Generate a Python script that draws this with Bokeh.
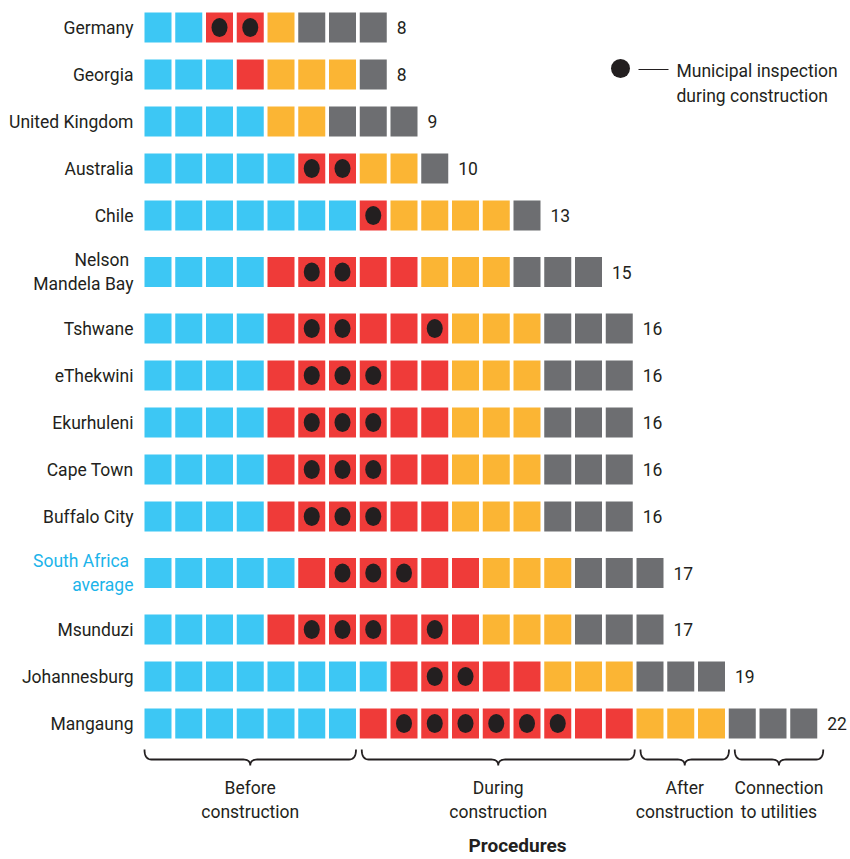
import numpy as np
from bokeh.plotting import figure
from bokeh.models import Range1d, ColumnDataSource
from bokeh.core.properties import value
from bokeh.embed import file_html
from bokeh.resources import INLINE

# ---------------- data ----------------
places = ["Germany", "Georgia", "United Kingdom", "Australia", "Chile",
          "Nelson \nMandela Bay", "Tshwane", "eThekwini", "Ekurhuleni",
          "Cape Town", "Buffalo City", "South Africa \naverage", "Msunduzi",
          "Johannesburg", "Mangaung"]
before = [2, 3, 4, 5, 7, 4, 4, 4, 4, 4, 4, 5, 4, 8, 7]
during = [2, 1, 0, 2, 1, 5, 6, 6, 6, 6, 6, 6, 7, 5, 9]
after = [1, 3, 2, 2, 4, 3, 3, 3, 3, 3, 3, 3, 3, 3, 3]
utilities = [3, 1, 3, 1, 1, 3, 3, 3, 3, 3, 3, 3, 3, 3, 3]
# municipal inspections: which procedures (1-based, within "during") have one
inspections = [[1, 2], [], [], [1, 2], [1], [2, 3], [2, 3, 6], [2, 3, 4],
               [2, 3, 4], [2, 3, 4], [2, 3, 4], [2, 3, 4], [2, 3, 4, 6],
               [2, 3], [2, 3, 4, 5, 6, 7]]
phase_names = ["Before\nconstruction", "During\nconstruction",
               "After\nconstruction", "Connection\nto utilities"]
highlight = "South Africa \naverage"
legend_text = "Municipal inspection\nduring construction"
axis_title = "Procedures"

# ---------------- style ----------------
C_BLUE = "#3DC7F4"
C_RED = "#EF3B39"
C_YEL = "#FBB534"
C_GRAY = "#6D6E71"
C_TEXT = "#231F20"
C_HL = "#1CB4EA"
FONT = value("Roboto")

W, H = 850, 859
PITCH = 30.75            # px per procedure
SQ_W, SQ_H = 27, 30
X0_PX = 157.5            # px centre of procedure 1 (page coords)
xs = 1 - X0_PX / PITCH
xe = xs + W / PITCH


def px_x(px):
    return xs + px / PITCH


# row y positions (page px), extra space around two-line labels
row_y = []
y = 27.0
for i, name in enumerate(places):
    if i > 0:
        gap = 47.0
        if "\n" in name or "\n" in places[i - 1]:
            gap += 9.5
        y += gap
    row_y.append(y)

p = figure(width=W, height=H, x_range=Range1d(xs, xe), y_range=Range1d(H, 0),
           x_axis_type=None, y_axis_type=None, toolbar_location=None,
           output_backend="svg", min_border=0)
p.outline_line_color = None
p.grid.visible = False
p.background_fill_color = "white"

# squares
sx, sy, sc = [], [], []
dx, dy = [], []
for i in range(len(places)):
    k = 1
    for n, col in zip([before[i], during[i], after[i], utilities[i]],
                      [C_BLUE, C_RED, C_YEL, C_GRAY]):
        for j in range(n):
            sx.append(k)
            sy.append(row_y[i])
            sc.append(col)
            if col == C_RED and (j + 1) in inspections[i]:
                dx.append(k)
                dy.append(row_y[i])
            k += 1

p.rect(x="x", y="y", width=SQ_W, height=SQ_H, width_units="screen",
       height_units="screen", fill_color="c", line_color=None,
       source=ColumnDataSource(dict(x=sx, y=sy, c=sc)))
p.ellipse(x=dx, y=dy, width=16, height=19, width_units="screen",
          height_units="screen", fill_color=C_TEXT, line_color=None)

# row labels
colors = [C_HL if n == highlight else C_TEXT for n in places]
p.text(x=[1 - 0.44] * len(places), y=row_y, text=places, x_offset=-11,
       text_align="right", text_baseline="middle", text_font=FONT,
       text_font_size="17.5px", text_color=colors, text_line_height=1.22)

# totals
totals = [b + d + a + u for b, d, a, u in zip(before, during, after, utilities)]
p.text(x=[t + 0.44 for t in totals], y=row_y, text=[str(t) for t in totals],
       x_offset=10, text_align="left", text_baseline="middle", text_font=FONT,
       text_font_size="17.5px", text_color=C_TEXT)

# braces for phases (from longest row)
li = int(np.argmax(totals))
groups = [before[li], during[li], after[li], utilities[li]]
y_top, y_mid, y_bot = 749, 759, 765
r = 7 / PITCH


def quad(p0, c, p1, n=10):
    t = np.linspace(0, 1, n)
    xq = (1 - t) ** 2 * p0[0] + 2 * (1 - t) * t * c[0] + t ** 2 * p1[0]
    yq = (1 - t) ** 2 * p0[1] + 2 * (1 - t) * t * c[1] + t ** 2 * p1[1]
    return list(xq), list(yq)


bxs, bys, lab_x = [], [], []
start = 0
for g, n in enumerate(groups):
    shift = 2 * g / PITCH
    x0 = start + 1 - SQ_W / 2 / PITCH + shift
    x1 = start + n + SQ_W / 2 / PITCH + shift
    xc = (x0 + x1) / 2
    X, Y = [], []
    a, b = quad((x0, y_top), (x0, y_mid), (x0 + r, y_mid)); X += a; Y += b
    a, b = quad((xc - r, y_mid), (xc, y_mid), (xc, y_bot)); X += a; Y += b
    a, b = quad((xc, y_bot), (xc, y_mid), (xc + r, y_mid)); X += a; Y += b
    a, b = quad((x1 - r, y_mid), (x1, y_mid), (x1, y_top)); X += a; Y += b
    bxs.append(X)
    bys.append(Y)
    lab_x.append(xc)
    start += n

p.multi_line(xs=bxs, ys=bys, line_color=C_TEXT, line_width=1.8)
p.text(x=lab_x, y=[799] * len(lab_x), text=phase_names, text_align="center",
       text_baseline="middle", text_font=FONT, text_font_size="17.5px",
       text_color=C_TEXT, text_line_height=1.2)

# axis title
p.text(x=[px_x(517)], y=[845], text=[axis_title], text_align="center",
       text_baseline="middle", text_font=FONT, text_font_size="19px",
       text_font_style="bold", text_color=C_TEXT)

# legend
p.ellipse(x=[px_x(620)], y=[68], width=19, height=19, width_units="screen",
          height_units="screen", fill_color=C_TEXT, line_color=None)
p.line(x=[px_x(638), px_x(668)], y=[69, 69], line_color=C_TEXT, line_width=1.2)
p.text(x=[px_x(676)], y=[83], text=[legend_text], text_align="left",
       text_baseline="middle", text_font=FONT, text_font_size="17.5px",
       text_color=C_TEXT, text_line_height=1.22)

open("out.html", "w").write(file_html(p, INLINE))
